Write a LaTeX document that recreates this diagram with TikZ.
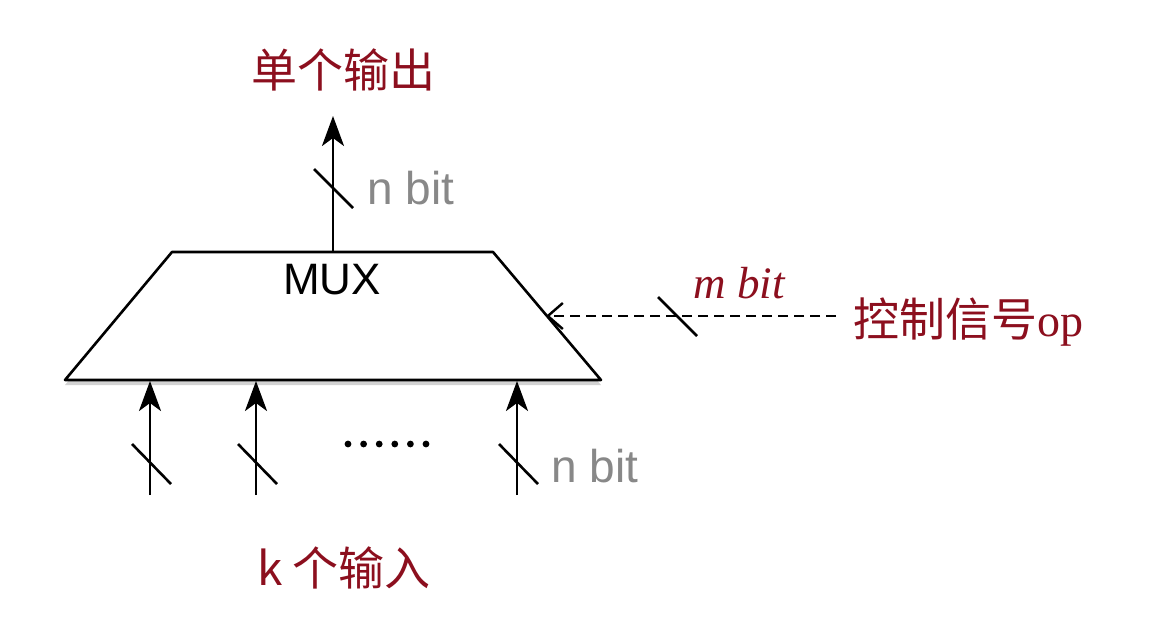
\documentclass[tikz,border=0pt]{standalone}
\usepackage{fontspec}
\setmainfont{Liberation Sans}
\newfontfamily\cjk{Noto Sans CJK SC}
\newfontfamily\serifit{Liberation Serif}
\usetikzlibrary{arrows.meta,shadows}
\definecolor{dred}{HTML}{8C0F1E}
\definecolor{gtext}{HTML}{888888}
\tikzset{
  wire/.style={line width=2.6pt, draw=black},
  uparrow/.style={wire, -{Stealth[length=30pt,width=22pt,inset=8pt]}},
  ctrlarrow/.style={line width=2.4pt, draw=black, dash pattern=on 10pt off 6pt, -{Straight Barb[length=15pt,width=26pt,line width=2.4pt]}},
  slashmark/.style={line width=2.6pt, draw=black},
  lbl/.style={inner sep=0pt, font=\fontsize{44}{48}\selectfont},
  cjklbl/.style={inner sep=0pt, text=dred, font=\cjk\fontsize{46}{50}\selectfont},
  bitlbl/.style={inner sep=0pt, text=gtext, font=\fontsize{46}{50}\selectfont},
}
\begin{document}
\begin{tikzpicture}[x=1pt,y=-1pt]
\useasboundingbox[fill=white] (0,0) rectangle (1170,625);
% MUX trapezoid
\draw[line width=2.6pt, line join=round, fill=white,
      drop shadow={shadow xshift=0pt, shadow yshift=-5pt, opacity=0.35, fill=gray}]
  (172,252) coordinate (tl) -- (493,252) coordinate (tr)
  -- (601,380) coordinate (br) -- (65,380) coordinate (bl) -- cycle;
\node[lbl] (mux) at (332,280) {MUX};
% output
\coordinate (outbase) at (333,252);
\coordinate (outtip) at (333,116);
\draw[uparrow] (outbase) -- (outtip);
\draw[slashmark] (314,169) coordinate (os1) -- (353,208) coordinate (os2);
\node[bitlbl] (nbit1) at (411,188) {n bit};
\node[cjklbl] (outlbl) at (343,70) {单个输出};
% inputs
\foreach \x/\n in {150/a,256/b,517/c}{
  \coordinate (in\n0) at (\x,495);
  \coordinate (in\n1) at (\x,381);
  \draw[uparrow] (in\n0) -- (in\n1);
  \draw[slashmark] (\x-18,444) -- (\x+21,484);
}
\foreach \i in {0,...,5}{
  \fill (348+15.6*\i,444) circle (3.4pt);
}
\node[bitlbl] (nbit2) at (595,466) {n bit};
\node[cjklbl] (inlbl) at (344,568) {k 个输入};
% control
\node[inner sep=0pt, text=dred, anchor=west] (ctrl) at (853,322)
  {\cjk\fontsize{46}{50}\selectfont 控制信号\serifit op};
\coordinate (cstart) at (836,316);
\coordinate (cend) at (546,316);
\draw[ctrlarrow] (cstart) -- (cend);
\draw[slashmark] (658,297) -- (697,336);
\node[inner sep=0pt, text=dred, font=\serifit\itshape\fontsize{45}{49}\selectfont] (mbit) at (739,283) {m bit};
\end{tikzpicture}
\end{document}
